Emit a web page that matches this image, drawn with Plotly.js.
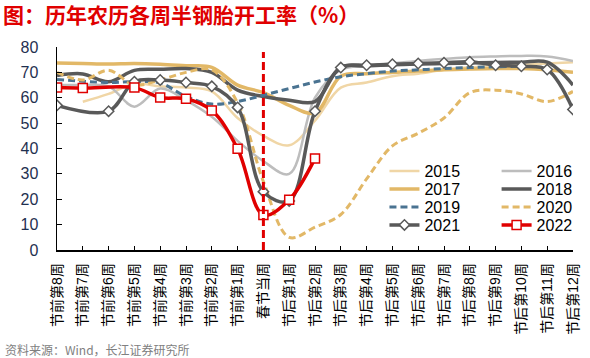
<!DOCTYPE html>
<html><head><meta charset="utf-8">
<script src="https://cdn.plot.ly/plotly-3.0.1.min.js"></script>
<style>html,body{margin:0;padding:0;background:#fff;}#chart{width:590px;height:358px;}</style>
</head><body><div id="chart"></div>
<script>
const categories = ['节前第8周','节前第7周','节前第6周','节前第5周','节前第4周','节前第3周','节前第2周','节前第1周','春节当周',
  '节后第1周','节后第2周','节后第3周','节后第4周','节后第5周','节后第6周','节后第7周','节后第8周','节后第9周','节后第10周','节后第11周','节后第12周'];
const yTicks = [0,10,20,30,40,50,60,70,80];
const holidayCategory = '春节当周';
const holidayLineTop = 78;

const s2015 = [null,58.4,61.5,65.5,64.5,64,62.5,52,45,41.3,51,64,66,68.5,69.5,71,72,72.5,73,73.5,74];
const s2016 = [65,65,64.5,56.5,63.6,59,52.5,43,35,30,60,71,72.5,73.5,74.5,75.3,76,76.3,76.5,76.3,74.5];
const s2017 = [73.7,73.5,73.3,73.5,73.2,72.6,72,65,62,57,54,68.5,69.5,70,70.5,71,71.3,71.5,71.5,71,70];
const s2018 = [68.8,69.4,66.3,70.8,71.2,71.5,70,63,60.5,59,58.5,72,72.5,73,73.3,73.5,73.7,73.9,74,74,65];
const s2019 = [67.2,66.5,66,66.3,65.8,60.5,57.5,58.5,61,63.6,66.2,68.3,69.5,70.5,71,71.5,71.9,72.2,72.4,null,null];
const s2020 = [70,67,70.8,65,67,70,71,58,27,5,9,14,28,41,46,52,62,63,61.5,58.5,62.5];
const s2021 = [57,null,54.7,66.3,67,66,64.5,56.2,23,19.3,54.7,71.9,72.8,73.2,73.5,73.8,74.2,72.8,72.4,71.1,55.4];
const s2022 = [64,63.8,null,64,60.1,59.6,55,39.9,13.8,19.8,36.1];

const seriesNames = ['2015','2016','2017','2018','2019','2020','2021','2022'];
const seriesData = [s2015,s2016,s2017,s2018,s2019,s2020,s2021,s2022];
const styles = [
  {line:{color:'#F0D6A6',width:2.5,shape:'spline'},mode:'lines'},
  {line:{color:'#BDBDBD',width:2.5,shape:'spline'},mode:'lines'},
  {line:{color:'#E2B867',width:3.5,shape:'spline'},mode:'lines'},
  {line:{color:'#595959',width:3.5,shape:'spline'},mode:'lines'},
  {line:{color:'#4A7391',width:3,dash:'7px,4px',shape:'spline'},mode:'lines'},
  {line:{color:'#E2B867',width:3,dash:'7px,4px',shape:'spline'},mode:'lines'},
  {line:{color:'#595959',width:3.5,shape:'spline'},mode:'lines+markers',marker:{symbol:'diamond',size:8,color:'#fff',line:{color:'#595959',width:1.5}}},
  {line:{color:'#E00000',width:3.5,shape:'spline'},mode:'lines+markers',marker:{symbol:'square',size:9,color:'#fff',line:{color:'#E00000',width:1.5}}}
];
const legendIds = ['legend','legend2','legend3','legend4','legend5','legend6','legend7','legend8'];

const traces = seriesData.map((d,i)=>Object.assign({
  type:'scatter', name:seriesNames[i], x:categories.slice(0,d.length), y:d,
  connectgaps:true, legend:legendIds[i], hoverinfo:'skip'
}, styles[i]));

const L = 57, T = 47, W = 520, H = 203;
const px = v => (v - L)/W;
const py = v => 1 - (v - T)/H;
const colLeft = [387, 500];
const rowTop = [154, 172, 190, 208];

const layout = {
  width:590, height:358,
  margin:{l:L, r:590-L-W, t:T, b:358-T-H},
  paper_bgcolor:'#fff', plot_bgcolor:'#fff',
  font:{family:'"Liberation Sans", "Noto Sans CJK SC", sans-serif', color:'#000'},
  title:{text:'图：历年农历各周半钢胎开工率（%）', x:3/590, xanchor:'left', xref:'container',
    y:1-16/358, yanchor:'middle', yref:'container',
    font:{family:'"Noto Sans CJK SC", sans-serif', size:21, color:'#E00000', weight:'bold'}},
  xaxis:{type:'category', categoryorder:'array', categoryarray:categories, range:[0,20],
    showline:true, linecolor:'#000', linewidth:1.5, ticks:'inside', ticklen:4, tickcolor:'#000', tickwidth:1,
    tickangle:-90, tickfont:{family:'"Liberation Sans", "Noto Sans CJK SC", sans-serif', size:14, color:'#000'},
    showgrid:false, zeroline:false, fixedrange:true, ticklabelstandoff:6},
  yaxis:{range:[0,80], tickvals:yTicks, showline:true, linecolor:'#000', linewidth:1.5,
    ticks:'inside', ticklen:5, tickcolor:'#000', tickfont:{size:16, color:'#1f3050'},
    showgrid:false, zeroline:false, fixedrange:true, ticklabelstandoff:14},
  shapes:[{type:'line', xref:'x', yref:'y', x0:holidayCategory, x1:holidayCategory, y0:0, y1:holidayLineTop,
    line:{color:'#E00000', width:3, dash:'8px,4px'}, layer:'above'}],
  annotations:[{text:'资料来源：Wind，长江证券研究所', xref:'paper', yref:'paper', x:px(3), y:py(349),
    xanchor:'left', yanchor:'middle', showarrow:false,
    font:{family:'"Noto Sans CJK SC", sans-serif', size:12, color:'#808080'}}],
  showlegend:true
};
legendIds.forEach((id,i)=>{
  layout[id] = {x:px(colLeft[i%2]), y:py(rowTop[Math.floor(i/2)]), xanchor:'left', yanchor:'top',
    bgcolor:'rgba(0,0,0,0)', borderwidth:0, font:{size:16, color:'#000'}};
});

Plotly.newPlot('chart', traces, layout, {staticPlot:true, displayModeBar:false});
</script></body></html>
